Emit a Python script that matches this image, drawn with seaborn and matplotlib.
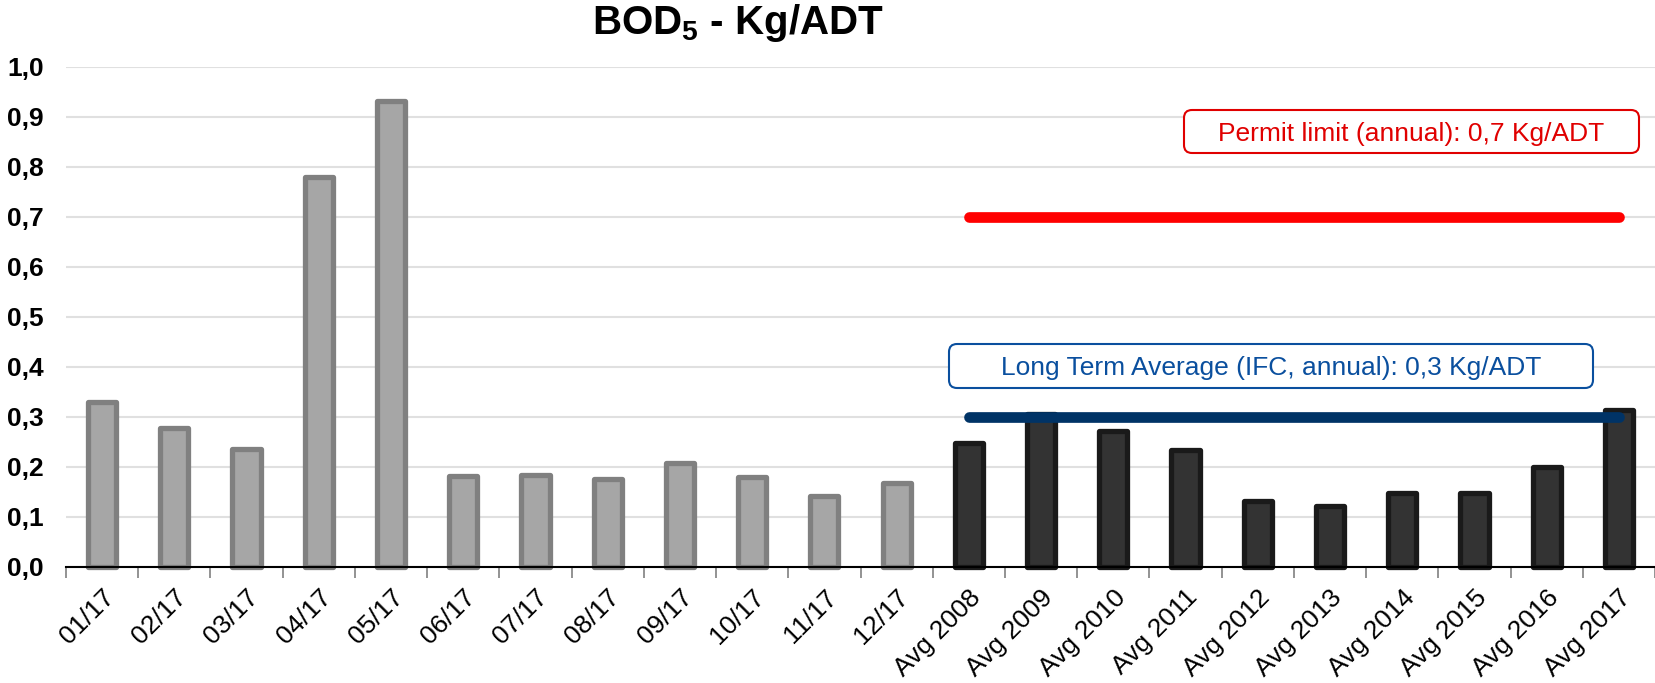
import numpy as np
import pandas as pd
import matplotlib
matplotlib.use("Agg")
import matplotlib.pyplot as plt
import seaborn as sns
from matplotlib.patches import FancyBboxPatch
from matplotlib.ticker import FuncFormatter

# monthly values 2017 and yearly averages
months = ["01/17", "02/17", "03/17", "04/17", "05/17", "06/17",
          "07/17", "08/17", "09/17", "10/17", "11/17", "12/17"]
month_vals = [0.330, 0.279, 0.236, 0.781, 0.933, 0.182,
              0.185, 0.177, 0.209, 0.180, 0.142, 0.169]
years = ["Avg 2008", "Avg 2009", "Avg 2010", "Avg 2011", "Avg 2012",
         "Avg 2013", "Avg 2014", "Avg 2015", "Avg 2016", "Avg 2017"]
year_vals = [0.249, 0.306, 0.272, 0.234, 0.132,
             0.122, 0.149, 0.149, 0.201, 0.314]

permit_limit = 0.7
long_term_avg = 0.3

df = pd.DataFrame({
    "label": months + years,
    "value": month_vals + year_vals,
    "group": ["month"] * len(months) + ["year"] * len(years),
})

sns.set_theme(style="whitegrid")
plt.rcParams["font.family"] = ["Liberation Sans", "DejaVu Sans"]
plt.rcParams["mathtext.fontset"] = "custom"
plt.rcParams["mathtext.rm"] = "Liberation Sans"
plt.rcParams["mathtext.bf"] = "Liberation Sans:bold"
plt.rcParams["text.color"] = "black"
plt.rcParams["xtick.color"] = "black"
plt.rcParams["ytick.color"] = "black"

fig = plt.figure(figsize=(16.55, 6.83), dpi=100)
ax = fig.add_axes([66 / 1655, 1 - 567 / 683, 1 - 66 / 1655, (567 - 67) / 683])

sns.barplot(data=df, x="label", y="value", hue="group",
            palette={"month": "#A6A6A6", "year": "#333333"},
            dodge=False, width=0.39, legend=False, ax=ax, zorder=3)

edge_of = {"month": "#808080", "year": "#1A1A1A"}
for bar, grp in zip(ax.patches, df["group"]):
    bar.set_edgecolor(edge_of[grp])
    bar.set_linewidth(3.8)
    bar.set_joinstyle("round")
    bar.set_clip_on(False)

# reference lines across the yearly averages
first = df.index[df["group"] == "year"][0]
last = df.index[df["group"] == "year"][-1]
ax.plot([first, last], [permit_limit] * 2, color="#FF0000", lw=7.7,
        solid_capstyle="round", zorder=4)
ax.plot([first, last], [long_term_avg] * 2, color="#003366", lw=7.7,
        solid_capstyle="round", zorder=4)

ax.set_xlim(-0.5, len(df) - 0.5)
ax.set_ylim(0, 1.0)
ax.set_yticks(np.arange(0, 1.01, 0.1))
ax.yaxis.set_major_formatter(FuncFormatter(lambda v, _: f"{v:.1f}".replace(".", ",")))
ax.set_xlabel("")
ax.set_ylabel("")

ax.grid(axis="y", color="#E0E0E0", lw=1.5, zorder=0)
ax.grid(axis="x", visible=False)
for s in ["left", "top", "right"]:
    ax.spines[s].set_visible(False)
ax.spines["bottom"].set_color("black")
ax.spines["bottom"].set_linewidth(1.5)
ax.spines["bottom"].set_zorder(5)

ax.tick_params(axis="y", length=0, pad=16, labelsize=19)
for t in ax.get_yticklabels():
    t.set_fontweight("bold")
ax.tick_params(axis="x", which="major", length=0, pad=13, labelsize=19)
ax.set_xticks(np.arange(-0.5, len(df), 1), minor=True)
ax.tick_params(axis="x", which="minor", bottom=True, length=8, width=1.2,
               color="#808080", direction="out")
plt.setp(ax.get_xticklabels(), rotation=45, ha="right", va="top",
         rotation_mode="anchor")

fig.text(738 / 1655, 1 - 23 / 683, r"$\mathbf{BOD_5}$ - Kg/ADT",
         ha="center", va="center", fontsize=29, fontweight="bold")


def label_box(x0, y0, x1, y1, text, color):
    # box given in pixels from the top-left corner of the image
    tr = fig.dpi_scale_trans
    w, h = (x1 - x0) / 100, (y1 - y0) / 100
    patch = FancyBboxPatch((x0 / 100, (683 - y1) / 100), w, h,
                           boxstyle="round,pad=0,rounding_size=0.08",
                           transform=tr, facecolor="white", edgecolor=color,
                           lw=1.5, zorder=6)
    fig.add_artist(patch)
    fig.text((x0 + x1) / 200, (683 - (y0 + y1) / 2) / 100, text, transform=tr,
             ha="center", va="center_baseline", fontsize=19, color=color, zorder=7)


label_box(1184, 110, 1639, 153, "Permit limit (annual): 0,7 Kg/ADT", "#E00000")
label_box(949, 344, 1593, 388, "Long Term Average (IFC, annual): 0,3 Kg/ADT", "#0A4F9E")

fig.savefig("out.png", dpi=100)
